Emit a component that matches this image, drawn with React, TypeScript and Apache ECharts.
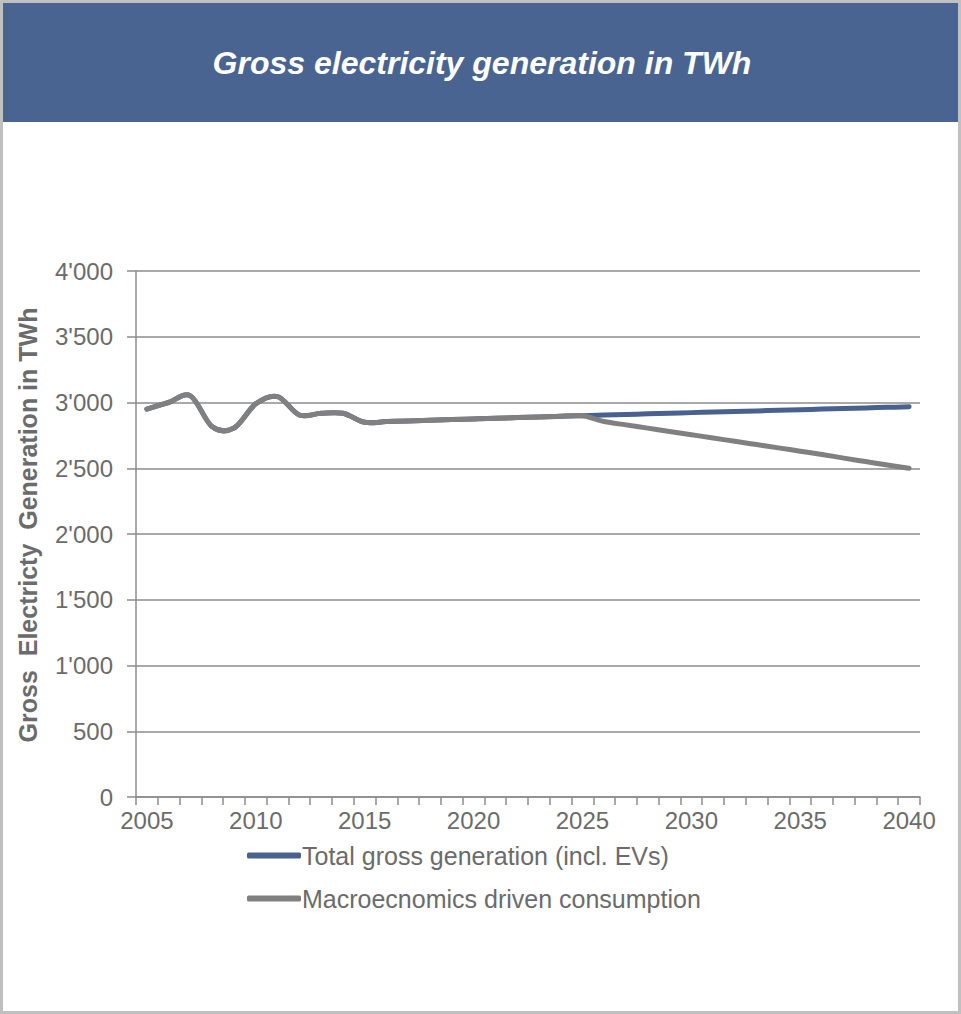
import React, { useEffect, useRef } from "react";
import * as echarts from "echarts";

const years: string[] = [];
for (let y = 2005; y <= 2040; y++) years.push(String(y));

const grossGeneration = [
  2950, 3000, 3050, 2815, 2806, 2990, 3045, 2905, 2918, 2918,
  2850, 2855, 2860, 2865, 2870, 2875, 2880, 2885, 2890, 2895,
  2900, 2905, 2909, 2914, 2918, 2923, 2927, 2932, 2936, 2941,
  2945, 2950, 2954, 2959, 2963, 2968,
];

const macroConsumption = [
  2950, 3000, 3050, 2815, 2806, 2990, 3045, 2905, 2918, 2918,
  2850, 2855, 2860, 2865, 2870, 2875, 2880, 2885, 2890, 2895,
  2900, 2855, 2830, 2805, 2780, 2755, 2730, 2705, 2680, 2655,
  2630, 2605, 2577, 2551, 2525, 2500,
];

const seriesNames = [
  "Total gross generation (incl. EVs)",
  "Macroecnomics driven consumption",
];

const titleText = "Gross electricity generation in TWh";
const yAxisTitle = "Gross  Electricty  Generation in TWh";

const BLUE = "#48618F";
const GREY = "#808080";
const TEXT = "#6B6B6B";
const GRID = "#8C8C8C";
const FONT = "'Liberation Sans', Arial, sans-serif";

// Catmull-Rom style smoothed line through the data points, positioned with the
// chart's own coordinate system (api.coord).
function smoothLineSeries(name: string, values: number[], color: string, z: number) {
  return {
    name,
    type: "custom",
    z,
    clip: false,
    itemStyle: { color },
    data: values.map((v, i) => [i, v]),
    encode: { x: 0, y: 1 },
    renderItem: (params: any, api: any) => {
      if (params.dataIndex !== 0) return null;
      const pts = values.map((v, i) => api.coord([i, v]));
      let d = `M${pts[0][0]},${pts[0][1]}`;
      for (let i = 0; i < pts.length - 1; i++) {
        const p0 = pts[Math.max(0, i - 1)];
        const p1 = pts[i];
        const p2 = pts[i + 1];
        const p3 = pts[Math.min(pts.length - 1, i + 2)];
        const c1x = p1[0] + (p2[0] - p0[0]) / 6;
        const c1y = p1[1] + (p2[1] - p0[1]) / 6;
        const c2x = p2[0] - (p3[0] - p1[0]) / 6;
        const c2y = p2[1] - (p3[1] - p1[1]) / 6;
        d += ` C${c1x},${c1y} ${c2x},${c2y} ${p2[0]},${p2[1]}`;
      }
      return {
        type: "path",
        shape: { pathData: d },
        style: { fill: "none", stroke: color, lineWidth: 5, lineCap: "round", lineJoin: "round" },
        silent: true,
      };
    },
  };
}

export default function App() {
  const ref = useRef<HTMLDivElement>(null);

  useEffect(() => {
    if (!ref.current) return;
    const chart = echarts.init(ref.current, undefined, { renderer: "svg" });
    chart.setOption({
      animation: false,
      backgroundColor: "#ffffff",
      textStyle: { fontFamily: FONT },
      graphic: [
        {
          type: "rect",
          shape: { x: 1.5, y: 1.5, width: 958, height: 1011 },
          style: { fill: "none", stroke: "#C0C0C0", lineWidth: 3 },
          silent: true,
        },
        {
          type: "rect",
          shape: { x: 3, y: 3, width: 955, height: 119 },
          style: { fill: "#4A6491" },
          silent: true,
        },
        {
          type: "text",
          x: 482,
          y: 63,
          style: {
            text: titleText,
            fill: "#ffffff",
            font: `italic bold 32px ${FONT}`,
            textAlign: "center",
            textVerticalAlign: "middle",
          },
          silent: true,
        },
        {
          type: "text",
          x: 28,
          y: 525,
          rotation: Math.PI / 2,
          style: {
            text: yAxisTitle,
            fill: TEXT,
            font: `bold 25px ${FONT}`,
            textAlign: "center",
            textVerticalAlign: "middle",
          },
          silent: true,
        },
      ],
      grid: { left: 136, right: 41, top: 271, bottom: 217, containLabel: false },
      legend: {
        orient: "vertical",
        left: 247,
        top: 843,
        padding: 0,
        itemWidth: 54,
        itemHeight: 6,
        itemGap: 18,
        icon: "roundRect",
        data: seriesNames,
        textStyle: { color: TEXT, fontSize: 25, fontFamily: FONT, padding: [0, 0, 0, -4] },
      },
      xAxis: {
        type: "category",
        data: years,
        boundaryGap: true,
        axisLine: { lineStyle: { color: GRID, width: 1.5 } },
        axisTick: { show: true, interval: 0, length: 8, lineStyle: { color: GRID, width: 1.5 } },
        axisLabel: {
          interval: 4,
          color: TEXT,
          fontSize: 24,
          fontFamily: FONT,
          margin: 11,
        },
      },
      yAxis: {
        type: "value",
        min: 0,
        max: 4000,
        interval: 500,
        axisLine: { show: true, lineStyle: { color: GRID, width: 1.5 } },
        axisTick: { show: true, length: 9, lineStyle: { color: GRID, width: 1.5 } },
        splitLine: { lineStyle: { color: GRID, width: 1.5 } },
        axisLabel: {
          color: TEXT,
          fontSize: 24,
          fontFamily: FONT,
          margin: 23,
          formatter: (v: number) =>
            v >= 1000 ? `${Math.floor(v / 1000)}'${String(v % 1000).padStart(3, "0")}` : String(v),
        },
      },
      series: [
        smoothLineSeries(seriesNames[0], grossGeneration, BLUE, 2),
        smoothLineSeries(seriesNames[1], macroConsumption, GREY, 3),
      ],
    });
    return () => chart.dispose();
  }, []);

  return (
    <div
      ref={ref}
      style={{ position: "absolute", left: 0, top: 0, width: 961, height: 1014 }}
    />
  );
}
